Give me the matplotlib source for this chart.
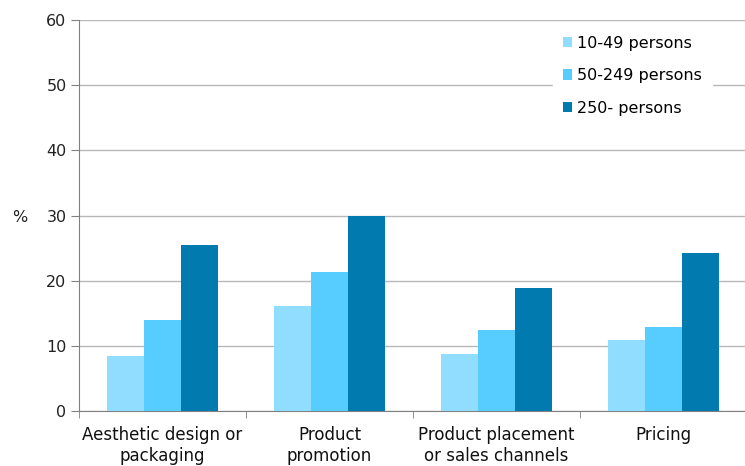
import matplotlib
matplotlib.use("Agg")
import matplotlib.pyplot as plt
import numpy as np

categories = ["Aesthetic design or\npackaging", "Product\npromotion",
              "Product placement\nor sales channels", "Pricing"]
series_names = ["10-49 persons", "50-249 persons", "250- persons"]
small = [8.4, 16.1, 8.7, 10.9]
medium = [13.9, 21.3, 12.4, 12.9]
large = [25.5, 29.9, 18.8, 24.2]
colors = ["#91ddff", "#57cdff", "#007aaf"]
yticks = [0, 10, 20, 30, 40, 50, 60]

plt.rcParams["font.family"] = ["DejaVu Sans"]

fig = plt.figure(figsize=(7.45, 4.66), dpi=100)
ax = fig.add_axes([79 / 745, 55 / 466, 668 / 745, 391 / 466])

x = np.arange(len(categories))
width = 0.22
for i, (vals, name) in enumerate(zip([small, medium, large], series_names)):
    ax.bar(x + (i - 1) * width, vals, width, color=colors[i], label=name,
           zorder=3)

ax.set_xlim(-0.5, len(categories) - 0.5)
ax.set_ylim(0, 60)
ax.set_yticks(yticks)
ax.set_yticklabels([str(t) for t in yticks], fontsize=11.5, color="#222222")
ax.yaxis.grid(True, color="#b8b8b8", linewidth=1, zorder=0)

# category labels centred, tick marks at the boundaries
ax.set_xticks(x)
ax.set_xticklabels(categories, fontsize=12, color="#111111", linespacing=1.2)
ax.tick_params(axis="x", length=0, pad=11)
ax.set_xticks(np.arange(len(categories) + 1) - 0.5, minor=True)
ax.tick_params(axis="x", which="minor", length=5, color="#808080")
ax.tick_params(axis="y", length=6, color="#808080", pad=3)

for side in ["top", "right"]:
    ax.spines[side].set_visible(False)
for side in ["left", "bottom"]:
    ax.spines[side].set_color("#808080")

fig.text(12 / 745, 1 - 218 / 466, "%", fontsize=11.5, color="#222222",
         va="center", ha="left")

leg = ax.legend(loc="upper left", bbox_to_anchor=(0.698, 1.005), frameon=True,
                fontsize=11.5, handlelength=0.6, handleheight=0.6,
                handletextpad=0.3, labelspacing=1.1, borderpad=0.6)
leg.get_frame().set_facecolor("white")
leg.get_frame().set_edgecolor("white")
leg.get_frame().set_alpha(1)
leg.set_zorder(5)

fig.savefig("out.png", dpi=100)
